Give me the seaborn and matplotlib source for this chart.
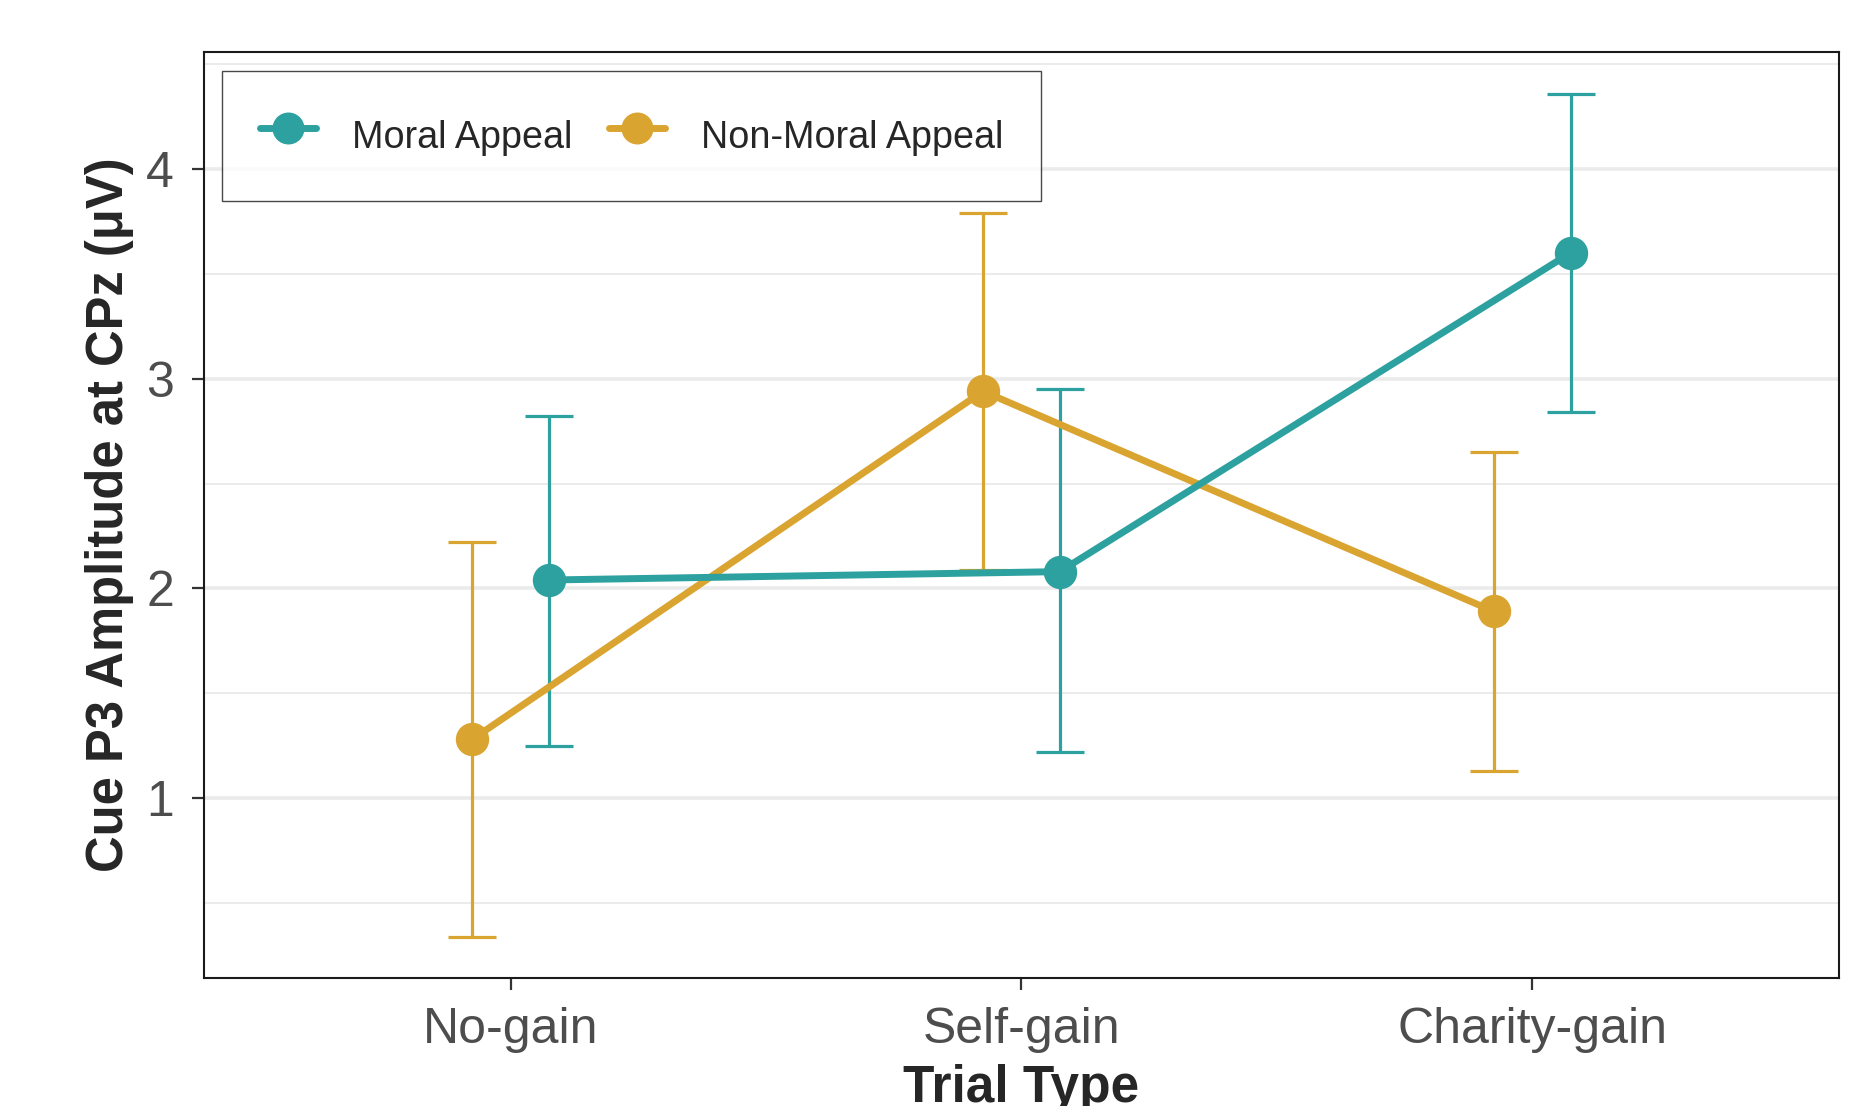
import pandas as pd
import matplotlib
matplotlib.use("Agg")
import matplotlib.pyplot as plt
import seaborn as sns

# Values (means and CI bounds)
trial_types = ["No-gain", "Self-gain", "Charity-gain"]
appeals = ["Moral Appeal", "Non-Moral Appeal"]

moral_mean = [2.04, 2.08, 3.60]
moral_low = [1.25, 1.22, 2.84]
moral_high = [2.82, 2.95, 4.36]

nonmoral_mean = [1.28, 2.94, 1.89]
nonmoral_low = [0.34, 2.09, 1.13]
nonmoral_high = [2.22, 3.79, 2.65]

colors = {"Moral Appeal": "#2CA19F", "Non-Moral Appeal": "#DAA430"}

df = pd.DataFrame({
    "trial": trial_types * 2,
    "appeal": [appeals[0]] * 3 + [appeals[1]] * 3,
    "mean": moral_mean + nonmoral_mean,
    "low": moral_low + nonmoral_low,
    "high": moral_high + nonmoral_high,
})

sns.set_style("white")
plt.rcParams["font.family"] = ["Liberation Sans", "DejaVu Sans"]

fig = plt.figure(figsize=(18.63, 11.06), dpi=100)
ax = fig.add_axes([0.1095, 0.1157, 0.8775, 0.8373])

# Non-Moral first so it sits on the left of each dodged pair
hue_order = ["Non-Moral Appeal", "Moral Appeal"]
sns.pointplot(data=df, x="trial", y="mean", hue="appeal", hue_order=hue_order,
              order=trial_types, palette=colors, dodge=0.15, errorbar=None,
              markers="o", linestyles="-", ax=ax, legend=False)

for line, name in zip(ax.lines, hue_order):
    line.set_linewidth(5)
    line.set_markersize(22)
    line.set_zorder(3)
    sub = df[df["appeal"] == name]
    xs = line.get_xdata()
    ax.errorbar(xs, sub["mean"], yerr=[sub["mean"] - sub["low"], sub["high"] - sub["mean"]],
                fmt="none", ecolor=colors[name], elinewidth=2.3, capsize=17,
                capthick=2.3, zorder=2)

ax.set_xlim(-0.6, 2.6)
ax.set_ylim(0.142, 4.558)
ax.set_yticks([1, 2, 3, 4])
ax.set_yticks([0.5, 1.5, 2.5, 3.5, 4.5], minor=True)
ax.yaxis.grid(True, which="major", color="#EBEBEB", linewidth=2.6, zorder=0)
ax.yaxis.grid(True, which="minor", color="#EBEBEB", linewidth=1.4, zorder=0)
ax.xaxis.grid(False)
ax.set_axisbelow(True)

for s in ax.spines.values():
    s.set_visible(True)
    s.set_color("#1A1A1A")
    s.set_linewidth(1.5)

ax.tick_params(axis="both", which="major", length=8.5, width=1.6, color="#333333",
               labelsize=36, labelcolor="#4D4D4D", left=True, bottom=True)
ax.tick_params(axis="x", which="major", pad=12)
ax.tick_params(axis="y", which="major", pad=13)
ax.tick_params(axis="y", which="minor", length=0)

ax.set_xlabel("Trial Type", fontsize=37, fontweight="bold", labelpad=8)
ax.set_ylabel("Cue P3 Amplitude at CPz (\u03bcV)", fontsize=36.5, fontweight="bold", labelpad=9)

handles = [plt.Line2D([], [], color=colors[a], marker="o", markersize=22, linewidth=5)
           for a in appeals]
leg = ax.legend(handles, appeals, loc="upper left", bbox_to_anchor=(0.011, 0.98),
                borderaxespad=0, ncol=2, fontsize=27.2, frameon=True, fancybox=False,
                handlelength=1.5, handleheight=1.85, handletextpad=0.95,
                columnspacing=0.95, borderpad=1.0)
leg.get_frame().set_edgecolor("#1A1A1A")
leg.get_frame().set_linewidth(1.0)

fig.savefig("out.png", dpi=100)
